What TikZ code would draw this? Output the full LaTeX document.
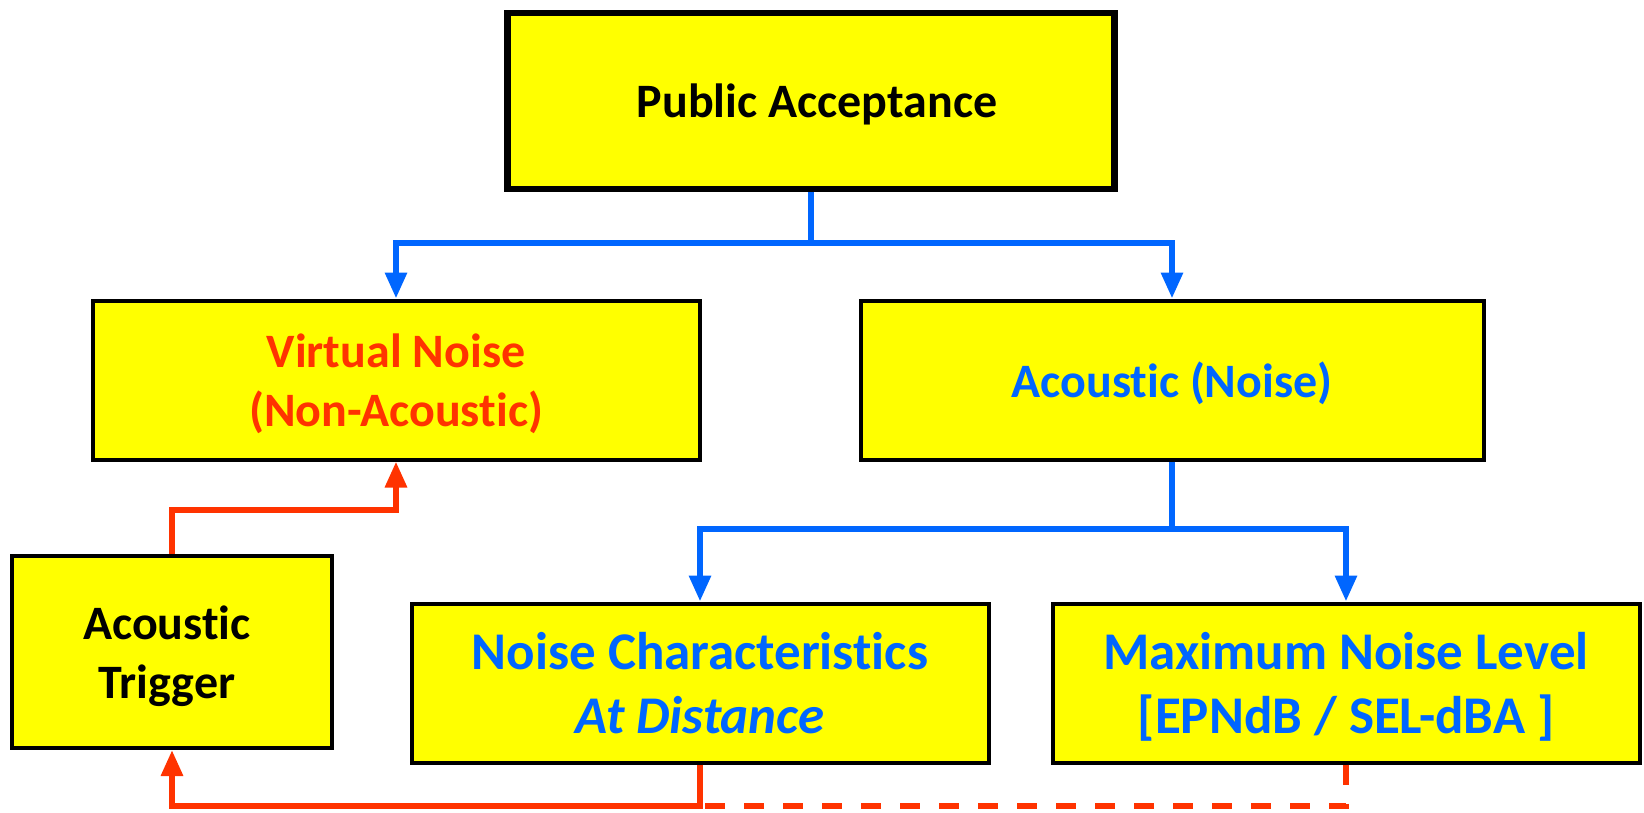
\documentclass[tikz,border=0pt]{standalone}
\usepackage{fontspec}
\setmainfont{Carlito}[Ligatures=CommonOff]
\usetikzlibrary{arrows.meta}
\definecolor{boxyellow}{HTML}{FFFF00}
\definecolor{lineblue}{HTML}{0066FF}
\definecolor{linered}{HTML}{FF3300}
\tikzset{
  box/.style={draw=black, line width=4pt, fill=boxyellow, inner sep=0pt, align=center,
    text depth=0pt, font=\fontsize{48}{59}\selectfont\bfseries},
  bigbox/.style={box, font=\fontsize{53}{64}\selectfont\bfseries},
  topbox/.style={box, line width=6.5pt},
  bluearrow/.style={draw=lineblue, line width=6pt, -{Triangle[length=26pt,width=21pt]}},
  blueline/.style={draw=lineblue, line width=6pt},
  redarrow/.style={draw=linered, line width=6pt, -{Triangle[length=26pt,width=21pt]}},
  reddash/.style={draw=linered, line width=6pt, dash pattern=on 20pt off 19pt},
}
\begin{document}
\begin{tikzpicture}[x=1pt,y=-1pt]
\useasboundingbox (0,0) rectangle (1644,812);
\node[topbox, minimum width=607pt, minimum height=176pt] (pa) at (811,101) {\hspace*{12pt}Public Acceptance};
\node[box, minimum width=607pt, minimum height=159pt, text=linered] (vn) at (396,380) {Virtual Noise\\(Non-Acoustic)};
\node[box, minimum width=623pt, minimum height=159pt, text=lineblue] (ac) at (1172,380) {Acoustic (Noise)};
\node[box, minimum width=320pt, minimum height=192pt] (at) at (172,652) {\hspace*{-10pt}Acoustic\\\hspace*{-10pt}Trigger};
\node[bigbox, minimum width=577pt, minimum height=159pt, text=lineblue] (nc) at (700,683) {Noise Characteristics\\\itshape At Distance};
\node[bigbox, minimum width=587pt, minimum height=159pt, text=lineblue] (mx) at (1346,683) {Maximum Noise Level\\{[}EPNdB / SEL-dBA ]};
\coordinate (j1) at (811,243);
\coordinate (j2) at (1172,529);
\coordinate (r1) at (172,510);
\coordinate (r2) at (700,806);
\draw[blueline] (pa.south) -- (j1);
\draw[bluearrow] (j1) -| (vn.north);
\draw[bluearrow] (j1) -| (ac.north);
\draw[blueline] (ac.south) -- (j2);
\draw[bluearrow] (j2) -| (nc.north);
\draw[bluearrow] (j2) -| (mx.north);
\draw[redarrow] (at.north) -- (r1) -| (vn.south);
\draw[redarrow] (nc.south) -- (r2) -| (at.south);
\draw[reddash] (mx.south) |- (r2);
\end{tikzpicture}
\end{document}
